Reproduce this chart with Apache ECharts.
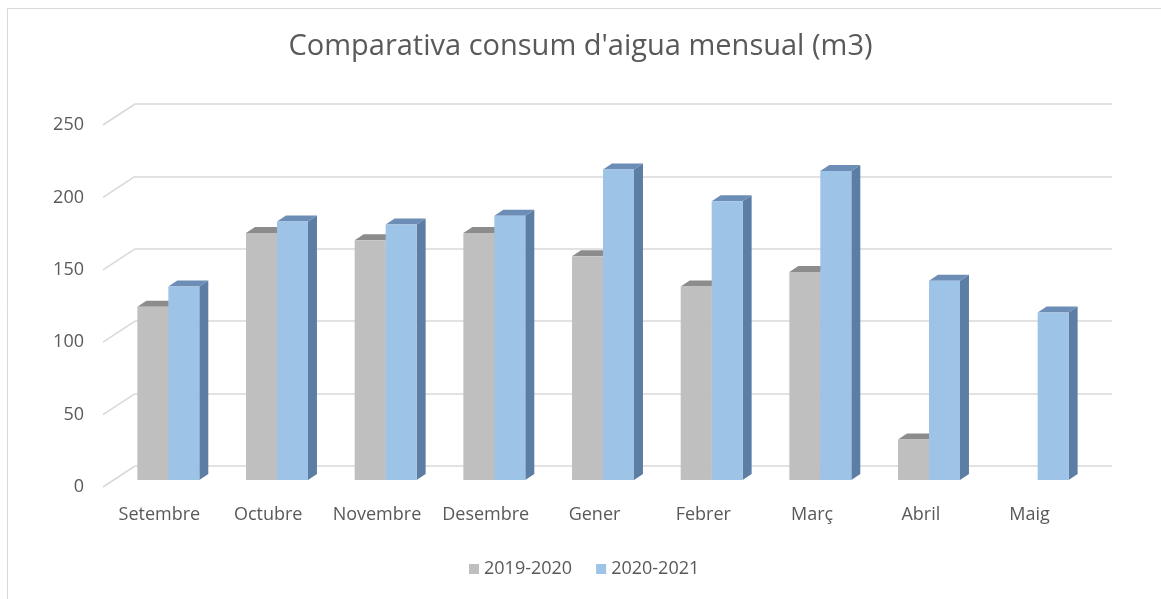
<!DOCTYPE html>
<html>
<head>
<meta charset="utf-8">
<script src="https://cdn.jsdelivr.net/npm/echarts@6/dist/echarts.min.js"></script>
<style>
html,body{margin:0;padding:0;background:#fff;}
#chart{width:1161px;height:599px;}
</style>
</head>
<body>
<div id="chart"></div>
<script>
// ---- data ----
const categories = ['Setembre','Octubre','Novembre','Desembre','Gener','Febrer','Març','Abril','Maig'];
const seriesNames = ['2019-2020','2020-2021'];
const values2019 = [120, 171, 166, 171, 155, 134, 144, 28, null];
const values2020 = [134, 179, 177, 183, 215, 193, 214, 138, 116];
const yTicks = [0, 50, 100, 150, 200, 250];
const yMin = 0, yMax = 250, yStep = 50;

// ---- styles ----
const FONT = '"Open Sans", sans-serif';
const TEXT = '#595959';
const GRID = '#d9d9d9';
const palette = [
  {front:'#bfbfbf', top:'#8c8c8c', side:'#9a9a9a'},
  {front:'#9dc3e6', top:'#6b8db6', side:'#5c7ea4'}
];
const DX = 9, DY = -6;          // bar depth
const WALL_DX = 30, WALL_DY = -21; // wall depth

const chart = echarts.init(document.getElementById('chart'));

function barRender(s){
  return function(params, api){
    const idx = api.value(0), val = api.value(1);
    const band = api.size([1,0])[0];
    const bw = band*0.285;
    const base = api.coord([idx, 0]);
    const top = api.coord([idx, val]);
    const x0 = base[0] - bw + s*bw;
    const yb = base[1], yt = top[1];
    const c = palette[s];
    return {
      type:'group',
      children:[
        {type:'polygon', shape:{points:[[x0+bw,yt],[x0+bw+DX,yt+DY],[x0+bw+DX,yb+DY],[x0+bw,yb]]}, style:{fill:c.side}},
        {type:'polygon', shape:{points:[[x0,yt],[x0+bw,yt],[x0+bw+DX,yt+DY],[x0+DX,yt+DY]]}, style:{fill:c.top}},
        {type:'rect', shape:{x:x0, y:yt, width:bw, height:yb-yt}, style:{fill:c.front}}
      ]
    };
  };
}

function toData(arr){
  const out = [];
  arr.forEach((v,i)=>{ if(v!==null && v!==undefined) out.push([i, v]); });
  return out;
}

const option = {
  backgroundColor:'#ffffff',
  animation:false,
  title:{
    text:"Comparativa consum d'aigua mensual (m3)",
    left:'center', top:27,
    textStyle:{fontFamily:FONT, fontSize:29, fontWeight:'normal', color:TEXT}
  },
  legend:{
    data:seriesNames,
    left:464, top:555,
    icon:'rect', itemWidth:10, itemHeight:10, itemGap:24,
    textStyle:{fontFamily:FONT, fontSize:18, color:TEXT}
  },
  graphic:[
    {type:'rect', shape:{x:7.5, y:8.5, width:1200, height:700}, style:{fill:'none', stroke:GRID, lineWidth:1}, silent:true, z:-1}
  ],
  grid:[
    {left:105, right:77, top:125, bottom:112},
    {left:135, right:49, top:104, bottom:133},
    {left:114, right:69, top:119, bottom:119}
  ],
  xAxis:[
    {gridIndex:0, type:'category', data:categories, axisLine:{show:false}, axisTick:{show:false},
     axisLabel:{margin:19, fontFamily:FONT, fontSize:18, color:TEXT, interval:0}},
    {gridIndex:1, type:'value', min:0, max:1, show:false},
    {gridIndex:2, type:'category', data:categories, show:false}
  ],
  yAxis:[
    {gridIndex:0, type:'value', min:yMin, max:yMax, interval:yStep, splitLine:{show:false},
     axisLine:{show:false}, axisTick:{show:false},
     axisLabel:{margin:21, fontFamily:FONT, fontSize:18, color:TEXT}},
    {gridIndex:1, type:'value', min:yMin, max:yMax, interval:yStep, axisLabel:{show:false},
     axisLine:{show:false}, axisTick:{show:false}, splitLine:{lineStyle:{color:GRID, width:1.5}}},
    {gridIndex:2, type:'value', min:yMin, max:yMax, interval:yStep, show:false}
  ],
  series:[
    {
      type:'custom', name:'floor', xAxisIndex:0, yAxisIndex:0, silent:true,
      data: yTicks.map(v=>[0, v]),
      renderItem:function(params, api){
        const y = api.coord([0, api.value(1)])[1];
        const cs = params.coordSys;
        return {type:'line', shape:{x1:cs.x-2, y1:y, x2:cs.x+WALL_DX, y2:y+WALL_DY}, style:{stroke:GRID, lineWidth:1.5}};
      }
    },
    {
      type:'custom', name:seriesNames[0], xAxisIndex:2, yAxisIndex:2,
      itemStyle:{color:palette[0].front},
      data: toData(values2019),
      renderItem: barRender(0)
    },
    {
      type:'custom', name:seriesNames[1], xAxisIndex:2, yAxisIndex:2,
      itemStyle:{color:palette[1].front},
      data: toData(values2020),
      renderItem: barRender(1)
    }
  ]
};
chart.setOption(option);
</script>
</body>
</html>
